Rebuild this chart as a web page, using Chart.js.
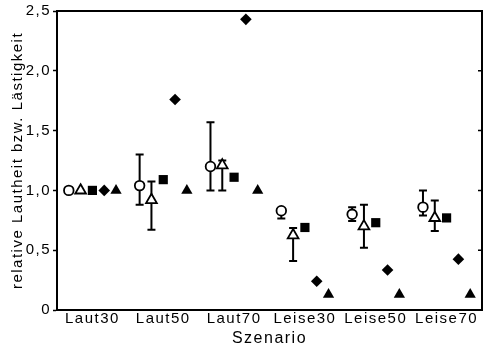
<!DOCTYPE html>
<html>
<head>
<meta charset="utf-8">
<script src="https://cdn.jsdelivr.net/npm/chart.js@4/dist/chart.umd.min.js"></script>
<style>
  body { margin: 0; background: #fff; }
  #wrap { width: 490px; height: 353px; }
</style>
</head>
<body>
<div id="wrap"><canvas id="chart"></canvas></div>
<script>
var categories = ["Laut30", "Laut50", "Laut70", "Leise30", "Leise50", "Leise70"];

var circleValues = [1.0, 1.04, 1.20, 0.83, 0.80, 0.86];
var circleLow = [1.0, 0.88, 1.00, 0.765, 0.745, 0.79];
var circleHigh = [1.0, 1.30, 1.57, 0.85, 0.86, 1.0];

var triangleValues = [1.0, 0.92, 1.21, 0.625, 0.70, 0.77];
var triangleLow = [1.0, 0.67, 1.00, 0.41, 0.52, 0.66];
var triangleHigh = [1.0, 1.075, 1.25, 0.685, 0.88, 0.915];

var squareValues = [1.0, 1.09, 1.11, 0.69, 0.73, 0.77];
var diamondValues = [1.0, 1.76, 2.43, 0.24, 0.335, 0.425];
var filledTriangleValues = [1.0, 1.0, 1.0, 0.13, 0.13, 0.13];

var yTicks = [0, 0.5, 1.0, 1.5, 2.0, 2.5];

// position of each series inside its category group
function points(values, shift) {
  return values.map(function (v, i) {
    return { x: i + 0.5 + shift, y: v };
  });
}

function tickText(v) {
  return v === 0 ? "0" : v.toFixed(1).replace(".", ",");
}

// the scanned original has wide, loose lettering
var spacing = {
  id: "spacing",
  beforeLayout: function (chart) { chart.ctx.letterSpacing = "1.5px"; },
  beforeDraw: function (chart) { chart.ctx.letterSpacing = "1.5px"; }
};

var errorBars = {
  id: "errorBars",
  beforeDatasetsDraw: function (chart) {
    var ctx = chart.ctx;
    var xs = chart.scales.x;
    var ys = chart.scales.y;
    var sets = [
      { low: circleLow, high: circleHigh, shift: -1 / 3 },
      { low: triangleLow, high: triangleHigh, shift: -1 / 6 }
    ];
    ctx.save();
    ctx.strokeStyle = "#000";
    ctx.lineWidth = 2;
    sets.forEach(function (s) {
      for (var i = 0; i < categories.length; i++) {
        if (s.low[i] === s.high[i]) continue;
        var px = xs.getPixelForValue(i + 0.5 + s.shift);
        var top = ys.getPixelForValue(s.high[i]);
        var bot = ys.getPixelForValue(s.low[i]);
        ctx.beginPath();
        ctx.moveTo(px, top);
        ctx.lineTo(px, bot);
        ctx.moveTo(px - 4, top);
        ctx.lineTo(px + 4, top);
        ctx.moveTo(px - 4, bot);
        ctx.lineTo(px + 4, bot);
        ctx.stroke();
      }
    });
    ctx.restore();
  }
};

var frame = {
  id: "frame",
  afterDraw: function (chart) {
    var ctx = chart.ctx;
    var a = chart.chartArea;
    var ys = chart.scales.y;
    ctx.save();
    ctx.strokeStyle = "#000";
    ctx.lineWidth = 2;
    ctx.strokeRect(a.left, a.top, a.right - a.left, a.bottom - a.top);
    ctx.lineWidth = 1.5;
    ctx.beginPath();
    yTicks.forEach(function (t) {
      var py = ys.getPixelForValue(t);
      ctx.moveTo(a.right - 4, py);
      ctx.lineTo(a.right, py);
    });
    ctx.stroke();
    ctx.restore();
  }
};

var ctx = document.getElementById("chart").getContext("2d");
new Chart(ctx, {
  type: "scatter",
  data: {
    datasets: [
      {
        label: "Kreis",
        data: points(circleValues, -1 / 3),
        pointStyle: "circle",
        pointRadius: 4.8,
        pointBackgroundColor: "#fff",
        pointBorderColor: "#000",
        pointBorderWidth: 1.8
      },
      {
        label: "Dreieck offen",
        data: points(triangleValues, -1 / 6),
        pointStyle: "triangle",
        pointRadius: 6.2,
        pointBackgroundColor: "#fff",
        pointBorderColor: "#000",
        pointBorderWidth: 1.8
      },
      {
        label: "Quadrat",
        data: points(squareValues, 0),
        pointStyle: "rect",
        pointRadius: 6.5,
        pointBackgroundColor: "#000",
        pointBorderColor: "#000",
        pointBorderWidth: 0
      },
      {
        label: "Raute",
        data: points(diamondValues, 1 / 6),
        pointStyle: "rectRot",
        pointRadius: 5.8,
        pointBackgroundColor: "#000",
        pointBorderColor: "#000",
        pointBorderWidth: 0
      },
      {
        label: "Dreieck",
        data: points(filledTriangleValues, 1 / 3),
        pointStyle: "triangle",
        pointRadius: 6.5,
        pointBackgroundColor: "#000",
        pointBorderColor: "#000",
        pointBorderWidth: 0
      }
    ]
  },
  options: {
    responsive: true,
    maintainAspectRatio: false,
    animation: false,
    layout: { padding: { top: 10, right: 4, left: 0, bottom: 0 } },
    plugins: {
      legend: { display: false },
      tooltip: { enabled: false }
    },
    scales: {
      x: {
        type: "linear",
        min: 0,
        max: 6,
        afterBuildTicks: function (scale) {
          scale.ticks = categories.map(function (c, i) { return { value: i + 0.5 }; });
        },
        afterFit: function (scale) { scale.height = 43; },
        ticks: {
          autoSkip: false,
          maxRotation: 0,
          padding: 0,
          color: "#000",
          font: { family: "Liberation Sans, Arial", size: 15 },
          callback: function (v) { return categories[Math.floor(v)]; }
        },
        grid: { display: false, drawTicks: false },
        border: { display: true, color: "#000", width: 2 },
        title: {
          display: true,
          text: "Szenario",
          color: "#000",
          font: { family: "Liberation Sans, Arial", size: 16 },
          padding: { top: 0, bottom: 5 }
        }
      },
      y: {
        min: 0,
        max: 2.5,
        afterBuildTicks: function (scale) {
          scale.ticks = yTicks.map(function (t) { return { value: t }; });
        },
        afterFit: function (scale) { scale.width = 57; },
        ticks: {
          padding: 2,
          color: "#000",
          font: { family: "Liberation Sans, Arial", size: 15 },
          callback: function (v) { return tickText(v); }
        },
        grid: {
          drawOnChartArea: false,
          drawTicks: true,
          tickLength: 4,
          tickWidth: 1.5,
          tickColor: "#000"
        },
        border: { display: true, color: "#000", width: 2 },
        title: {
          display: true,
          text: "relative Lautheit bzw. Lästigkeit",
          color: "#000",
          font: { family: "Liberation Sans, Arial", size: 15 },
          padding: { top: 9, bottom: 0 }
        }
      }
    }
  },
  plugins: [spacing, errorBars, frame]
});
</script>
</body>
</html>
